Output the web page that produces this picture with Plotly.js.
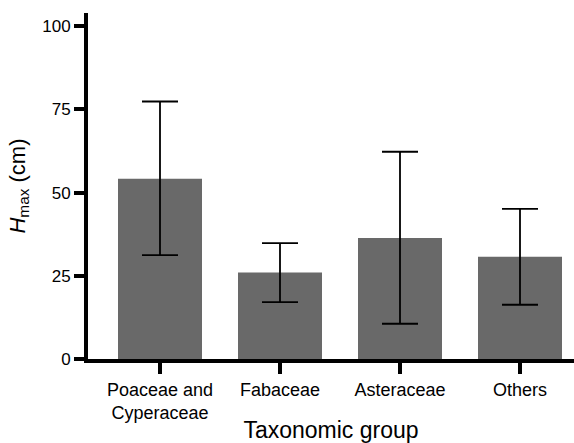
<!DOCTYPE html>
<html>
<head>
<meta charset="utf-8">
<script src="https://cdn.plot.ly/plotly-3.0.1.min.js"></script>
<style>html,body{margin:0;padding:0;background:#fff;}#chart{width:574px;height:443px;}</style>
</head>
<body>
<div id="chart"></div>
<script>
var categories = ["Poaceae and<br>Cyperaceae", "Fabaceae", "Asteraceae", "Others"];
var means = [54.2, 26.0, 36.4, 30.7];
var errUpper = [77.4, 34.8, 62.3, 45.1];
var errLower = [31.2, 17.1, 10.6, 16.3];
var yTicks = [0, 25, 50, 75, 100];

var plus = means.map(function(m, i){ return errUpper[i] - m; });
var minus = means.map(function(m, i){ return m - errLower[i]; });

var trace = {
  type: 'bar',
  x: categories,
  y: means,
  width: 0.7,
  marker: {color: '#696969', line: {width: 0}},
  error_y: {type: 'data', symmetric: false, array: plus, arrayminus: minus, color: '#000', thickness: 1.8, width: 18},
  hoverinfo: 'none'
};

var font = "Liberation Sans, Arial, Helvetica, sans-serif";
var layout = {
  width: 574, height: 443,
  margin: {l: 88, r: 0, t: 13, b: 84},
  paper_bgcolor: '#fff', plot_bgcolor: '#fff',
  showlegend: false,
  font: {family: font, size: 16, color: '#000'},
  xaxis: {
    type: 'category',
    range: [-0.6, 3.45],
    showline: true, linewidth: 4, linecolor: '#000',
    ticks: 'outside', ticklen: 11, tickwidth: 4, tickcolor: '#000',
    showgrid: false, zeroline: false,
    tickfont: {family: font, size: 18, color: '#000'},
    title: {text: 'Taxonomic group', font: {family: font, size: 23, color: '#000'}, standoff: 4},
    automargin: false
  },
  yaxis: {
    range: [0, 104],
    tickvals: yTicks,
    ticktext: yTicks.map(String),
    showline: true, linewidth: 4, linecolor: '#000',
    ticks: 'outside', ticklen: 10, tickwidth: 4, tickcolor: '#000',
    showgrid: false, zeroline: false,
    tickfont: {family: font, size: 17, color: '#000'},
    title: {text: '<i>H</i><sub>max</sub> (cm)', font: {family: font, size: 22, color: '#000'}, standoff: 12},
    automargin: false
  },
  bargap: 0.3
};

Plotly.newPlot('chart', [trace], layout, {displayModeBar: false, staticPlot: true});
</script>
</body>
</html>
